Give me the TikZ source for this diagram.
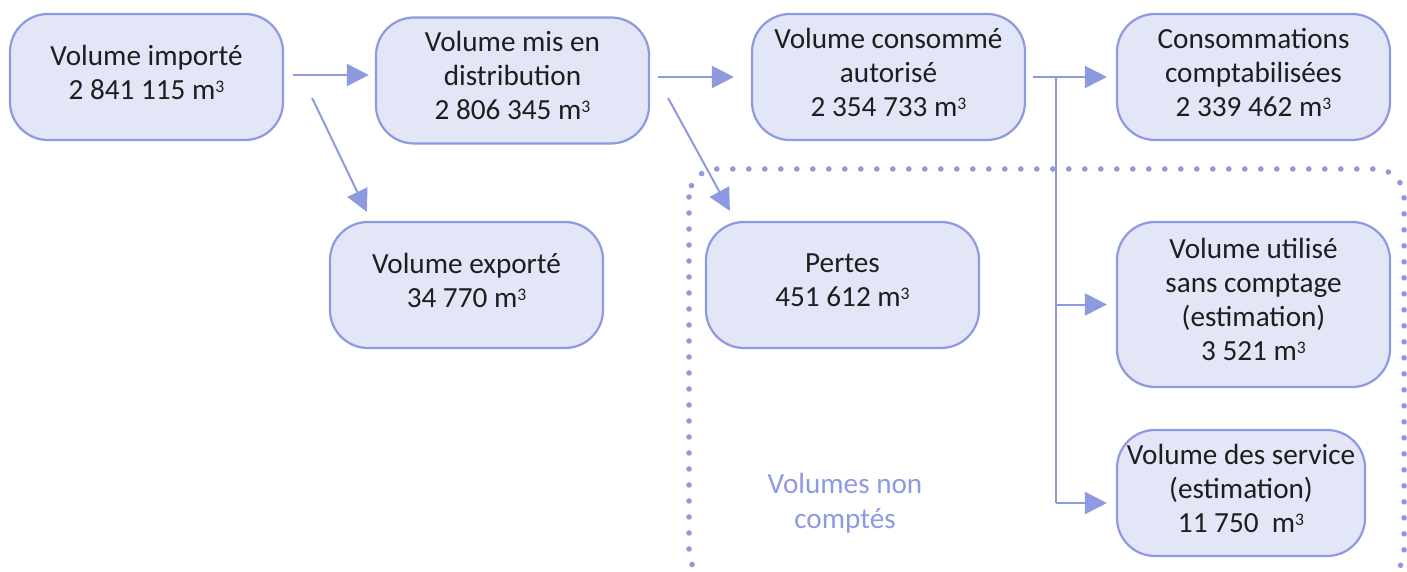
\documentclass[tikz,border=0pt]{standalone}
\usepackage{fontspec}
\setmainfont{Carlito}
\usetikzlibrary{arrows.meta,calc}
\definecolor{lineblue}{HTML}{8E9AE0}
\definecolor{fillblue}{HTML}{E3E6F7}
\definecolor{txt}{HTML}{1E1E1E}
\tikzset{
  x=0.5pt, y=-0.5pt,
  box/.style={draw=lineblue, fill=fillblue, line width=1.1pt, rounded corners=19pt,
    align=center, text=txt, font=\fontsize{14.6}{17}\selectfont, text depth=5pt,
    minimum width=136.5pt, minimum height=63pt, inner sep=0pt},
  arr/.style={draw=lineblue, line width=1pt, -{Triangle[length=11pt,width=11pt]}},
  ln/.style={draw=lineblue, line width=1pt}
}
\newcommand{\mcube}{m\raisebox{3.4pt}{\fontsize{8.8}{8.8}\selectfont 3}}
\begin{document}
\begin{tikzpicture}
\useasboundingbox (0,0) rectangle (1407,572);
% dotted frame
\begin{scope}
\clip (0,0) rectangle (1407,572);
\draw[draw=lineblue, line width=2.8pt, line cap=round, dash pattern=on 0pt off 8pt, rounded corners=14pt]
  (689,169) rectangle (1404,580);
\end{scope}
\node[box] (b1) at (146.5,77) {Volume importé\\2 841 115 \mcube};
\node[box] (b2) at (512.5,80.5) {Volume mis en\\distribution\\2 806 345 \mcube};
\node[box] (b3) at (888.5,77) {Volume consommé\\autorisé\\2 354 733 \mcube};
\node[box] (b4) at (1253.5,77) {Consommations\\comptabilisées\\2 339 462 \mcube};
\node[box] (b5) at (466.5,285) {Volume exporté\\34 770 \mcube};
\node[box] (b6) at (842.5,285) {Pertes\\451 612 \mcube};
\node[box, minimum height=82.5pt] (b7) at (1253.5,304.5) {Volume utilisé\\sans comptage\\(estimation)\\3 521 \mcube};
\node[box, minimum width=124pt] (b8) at (1241,493) {Volume des service\\(estimation)\\11 750~~\mcube};
\node[text=lineblue, align=center, font=\fontsize{14.6}{17.5}\selectfont] (lbl) at (845,503) {Volumes non\\comptés};
% connectors
\draw[arr] ($(b1.east)+(9,-2)$) -- ($(b2.west)+(-6,-5.5)$);
\draw[arr] ($(b1.east)+(28,21)$) -- ($(b5.north west)+(38,-9)$);
\draw[arr] ($(b2.east)+(8,-3.5)$) -- ($(b3.west)+(-17,0)$);
\draw[arr] ($(b2.east)+(18,17.5)$) -- ($(b6.north west)+(25,-10)$);
\coordinate (br) at ($(b3.east)+(30,0)$);
\draw[arr] ($(b3.east)+(7,0)$) -- ($(b4.west)+(-9,0)$);
\draw[ln] (br) -- (br |- 0,503) coordinate (brb);
\draw[arr] (br |- b7.west) -- ($(b7.west)+(-9,0)$);
\draw[arr] (brb) -- ($(b7.west |- brb)+(-9,0)$);
\end{tikzpicture}
\end{document}
